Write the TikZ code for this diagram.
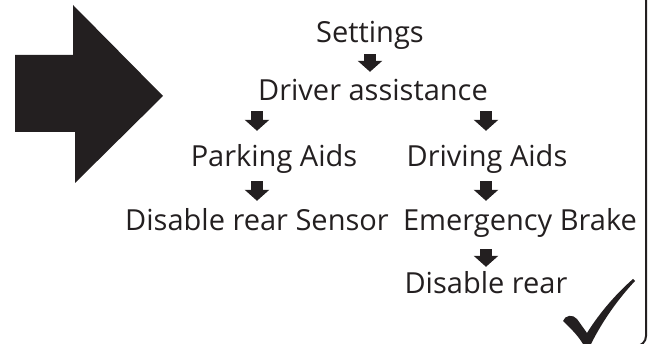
\documentclass[tikz,border=0pt]{standalone}
\usepackage{fontspec}
\setmainfont{Open Sans}
\usepackage{xcolor}
\usepackage{tikz}
\usetikzlibrary{arrows.meta}
\definecolor{ink}{HTML}{231F20}
\tikzset{
  frame/.style    = {draw=ink, line width=2pt, rounded corners=10pt},
  menu/.style     = {font=\fontsize{29}{32}\selectfont, text=ink, inner sep=0pt,
                     text height=20pt, text depth=7pt},
  down/.style     = {draw=ink, line width=12pt, -{Triangle[width=24pt,length=11pt]}},
  bigarrow/.style = {fill=ink, draw=none},
}

\begin{document}
\begin{tikzpicture}[x=1pt,y=-1pt]
  \useasboundingbox (0,0) rectangle (654,344);
  \clip (0,0) rectangle (654,344);
  \draw[frame] (-10,-10) rectangle (646,346);

  % big arrow
  \fill[bigarrow] (15,55) -- (73,55) -- (73,5) -- (163,96) -- (75,183) -- (75,132) -- (15,132) -- cycle;

  % menu path
  \node[menu] (set)   at (370,43)  [anchor=base] {Settings};
  \node[menu] (drv)   at (373,101) [anchor=base] {Driver assistance};
  \node[menu] (park)  at (274,167) [anchor=base] {Parking Aids};
  \node[menu] (drva)  at (487,167) [anchor=base] {Driving Aids};
  \node[menu] (dsr)   at (257,231) [anchor=base] {Disable rear Sensor};
  \node[menu] (emb)   at (520,231) [anchor=base] {Emergency Brake};
  \node[menu] (drear) at (486,294) [anchor=base] {Disable rear};

  \draw[down, shorten <=4pt, shorten >=9pt] (set.south) -- (set.south |- drv.north);
  \draw[down, shorten <=3pt, shorten >=16pt] (drv.south -| dsr) -- (park.north -| dsr);
  \draw[down, shorten <=3pt, shorten >=16pt] (drv.south -| drear) -- (drva.north -| drear);
  \draw[down, shorten <=7pt, shorten >=10pt] (park.south -| dsr) -- (dsr.north);
  \draw[down, shorten <=7pt, shorten >=10pt] (drva.south -| drear) -- (emb.north -| drear);
  \draw[down, shorten <=11pt, shorten >=7pt] (emb.south -| drear) -- (drear.north);

  % check mark
  \fill[ink] (563,321) .. controls (565,315) and (573,314) .. (577,319) -- (587,333)
    .. controls (600,312) and (617,293) .. (633,279) -- (635,281)
    .. controls (619,298) and (603,320) .. (591,344) -- (583,344)
    .. controls (577,334) and (569,327) .. (563,321) -- cycle;
\end{tikzpicture}
\end{document}
